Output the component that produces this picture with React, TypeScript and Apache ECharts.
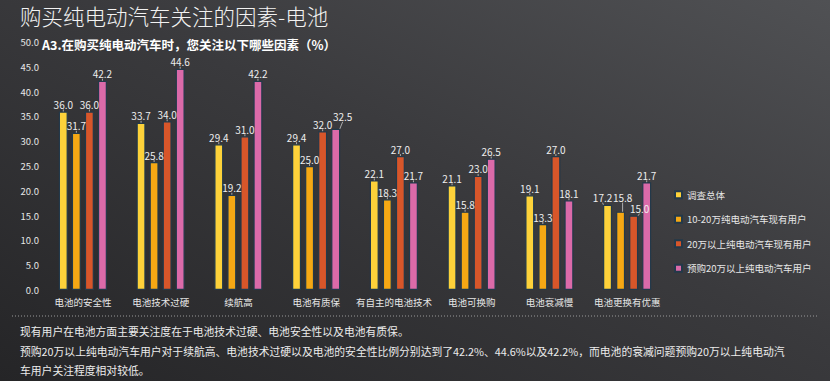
import React, { useEffect, useRef } from "react";
import * as echarts from "echarts";

const categories = ["电池的安全性", "电池技术过硬", "续航高", "电池有质保", "有自主的电池技术", "电池可换购", "电池衰减慢", "电池更换有优惠"];
const seriesNames = ["调查总体", "10-20万纯电动汽车现有用户", "20万以上纯电动汽车现有用户", "预购20万以上纯电动汽车用户"];
const totalValues = [36.0, 33.7, 29.4, 29.4, 22.1, 21.1, 19.1, 17.2];
const midOwnerValues = [31.7, 25.8, 19.2, 25.0, 18.3, 15.8, 13.3, 15.8];
const highOwnerValues = [36.0, 34.0, 31.0, 32.0, 27.0, 23.0, 27.0, 15.0];
const preOrderValues = [42.2, 44.6, 42.2, 32.5, 21.7, 26.5, 18.1, 21.7];
const colors = ["#FDD23A", "#F5A814", "#D7562A", "#DB6AA9"];

const title = "购买纯电动汽车关注的因素-电池";
const subtitle = "A3.在购买纯电动汽车时，您关注以下哪些因素（%）";
const notes = [
  "现有用户在电池方面主要关注度在于电池技术过硬、电池安全性以及电池有质保。",
  "预购20万以上纯电动汽车用户对于续航高、电池技术过硬以及电池的安全性比例分别达到了42.2%、44.6%以及42.2%，而电池的衰减问题预购20万以上纯电动汽",
  "车用户关注程度相对较低。",
];

export default function App() {
  const ref = useRef<HTMLDivElement>(null);
  useEffect(() => {
    document.body.style.margin = "0";
    const chart = echarts.init(ref.current!, undefined, { renderer: "svg" });
    const allValues = [totalValues, midOwnerValues, highOwnerValues, preOrderValues];
    const font = "'Noto Sans CJK SC', 'Noto Sans', sans-serif";
    const shifts: Record<string, [number, number]> = {
      "3-3": [7, -5],
      "0-7": [-5, 0],
      "1-7": [2, -7],
      "2-7": [6, 0],
    };
    chart.setOption({
      animation: false,
      backgroundColor: new echarts.graphic.LinearGradient(0, 1, 1, 0, [
        { offset: 0, color: "#252527" },
        { offset: 0.55, color: "#3a3a3d" },
        { offset: 1, color: "#505154" },
      ]),
      textStyle: { fontFamily: font },
      grid: { left: 44, right: 164, top: 42, bottom: 91 },
      legend: {
        orient: "vertical",
        left: 669,
        top: 185,
        itemWidth: 7,
        itemHeight: 7,
        itemGap: 15,
        icon: "rect",
        textStyle: { color: "#e6e6e6", fontSize: 9.5, fontFamily: font },
        data: seriesNames,
      },
      xAxis: {
        type: "category",
        data: categories,
        axisLine: { show: false },
        axisTick: { show: false },
        axisLabel: { color: "#e6e6e6", fontSize: 9.5, margin: 7, interval: 0 },
      },
      yAxis: {
        type: "value",
        min: 0,
        max: 50,
        interval: 5,
        axisLine: { show: false },
        axisTick: { show: false },
        splitLine: { show: false },
        axisLabel: {
          color: "#e6e6e6",
          fontSize: 9.5,
          margin: 5,
          formatter: (v: number) => v.toFixed(1),
        },
      },
      series: seriesNames.map((name, i) => ({
        name,
        type: "bar",
        data: allValues[i],
        barWidth: 9,
        barGap: "45%",
        itemStyle: { color: colors[i], borderColor: "#23394a", borderWidth: 1.2 },
        label: {
          show: true,
          position: "top",
          distance: 2,
          color: "#eeeeee",
          fontSize: 10,
          formatter: (p: any) => Number(p.value).toFixed(1),
        },
        labelLine: { show: true, length2: 0, lineStyle: { color: "#cccccc", width: 0.8 } },
        labelLayout: (p: any) => {
          const s = shifts[i + "-" + p.dataIndex];
          if (!s) return {};
          return { dx: s[0], dy: s[1] };
        },
      })),
      graphic: [
        {
          type: "text",
          left: 20,
          top: 5,
          style: { text: title, fill: "#f2f2f2", fontSize: 21.5, fontFamily: font, fontWeight: 300 },
        },
        {
          type: "text",
          left: 42,
          top: 38,
          style: { text: subtitle, fill: "#ffffff", fontSize: 12.5, fontWeight: "bold", fontFamily: font },
        },
        {
          type: "line",
          shape: { x1: 12, y1: 316, x2: 818, y2: 316 },
          style: { stroke: "#9a9a9a", lineWidth: 1, lineDash: [1, 2] },
        },
        ...notes.map((t, i) => ({
          type: "text",
          left: 20,
          top: 326 + i * 19.5,
          style: { text: t, fill: "#ececec", fontSize: 10.8, fontFamily: font },
        })),
      ],
    });
    return () => chart.dispose();
  }, []);
  return <div ref={ref} style={{ width: 830, height: 381 }} />;
}
